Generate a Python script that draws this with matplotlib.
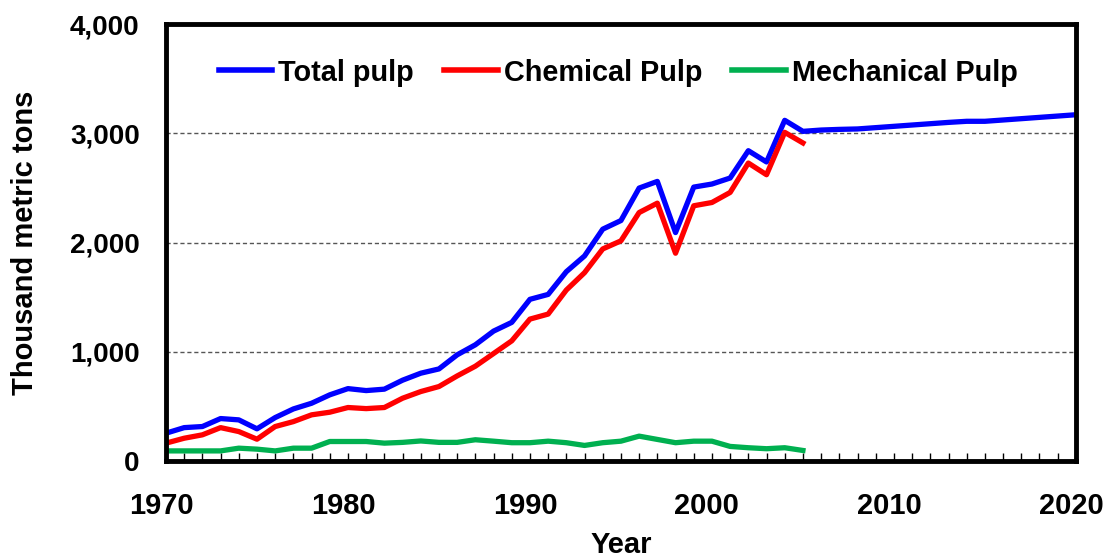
import numpy as np
import matplotlib
matplotlib.use("Agg")
import matplotlib.pyplot as plt
import matplotlib.transforms as mtransforms
from matplotlib.ticker import MultipleLocator, FuncFormatter

plt.rcParams['font.family'] = ['Liberation Sans', 'DejaVu Sans']
plt.rcParams['font.weight'] = 'bold'

# data (thousand metric tons)
years_hist = list(range(1970, 2006))
total_hist = [256, 307, 317, 390, 378, 296, 399, 478, 530, 607,
              664, 646, 659, 741, 805, 844, 973, 1065, 1190, 1270,
              1481, 1526, 1734, 1878, 2123, 2202, 2499, 2560, 2092, 2508,
              2536, 2591, 2841, 2738, 3119, 3018]
chemical = [165, 210, 241, 307, 271, 201, 317, 362, 424, 448,
            491, 481, 491, 576, 637, 683, 780, 869, 985, 1101,
            1300, 1346, 1566, 1725, 1942, 2016, 2275, 2361, 1903, 2337,
            2367, 2459, 2728, 2621, 3009, 2912]
mechanical = [94, 94, 94, 94, 119, 110, 94, 119, 119, 180,
              180, 180, 165, 172, 185, 172, 172, 196, 183, 169,
              169, 183, 169, 144, 169, 183, 229, 199, 169, 183,
              183, 135, 123, 114, 123, 98]
years_proj = list(range(2005, 2021))
total_proj = [3018, 3030, 3036, 3040, 3052, 3064, 3076, 3088, 3100, 3110,
              3110, 3122, 3134, 3146, 3158, 3170]

years_total = years_hist + years_proj[1:]
total = total_hist + total_proj[1:]

fig = plt.figure(figsize=(11.11, 5.59), dpi=100)
ax = fig.add_axes([0.1494, 0.175, 0.819, 0.782])

ax.plot(years_total, total, color='#0000FF', lw=3.8, label='Total pulp')
ax.plot(years_hist, chemical, color='#FF0000', lw=3.8, label='Chemical Pulp')
ax.plot(years_hist, mechanical, color='#00B050', lw=3.8, label='Mechanical Pulp')

ax.set_xlim(1970, 2020)
ax.set_ylim(0, 4000)
ax.xaxis.set_major_locator(MultipleLocator(10))
ax.xaxis.set_minor_locator(MultipleLocator(1))
ax.yaxis.set_major_locator(MultipleLocator(1000))
ax.yaxis.set_major_formatter(FuncFormatter(lambda v, p: f'{int(v):,}'))

ax.tick_params(axis='x', which='both', direction='in', length=6, width=1, pad=22,
               labelsize=21, top=False)
ax.tick_params(axis='y', which='both', length=0, pad=19, labelsize=20)

# x labels sit a little left of their ticks in the original
shift = mtransforms.ScaledTranslation(-5 / 100, 0, fig.dpi_scale_trans)
for lab in ax.get_xticklabels():
    lab.set_transform(lab.get_transform() + shift)

for s in ax.spines.values():
    s.set_linewidth(3.5)
    s.set_color('black')

for v in [1000, 2000, 3000]:
    ax.axhline(v, color='#555555', lw=1, ls=(0, (3, 2)), zorder=0)

ax.set_ylabel('Thousand metric tons', fontsize=21, fontweight='bold', labelpad=22)
ax.set_xlabel('Year', fontsize=21, fontweight='bold', labelpad=8)

leg = ax.legend(loc='center', bbox_to_anchor=(0.497, 0.889), ncol=3, frameon=False,
                fontsize=20.8, handlelength=1.85, handletextpad=0.2, columnspacing=1.05)
for h in leg.get_lines():
    h.set_linewidth(4)

fig.savefig('out.png', dpi=100)
